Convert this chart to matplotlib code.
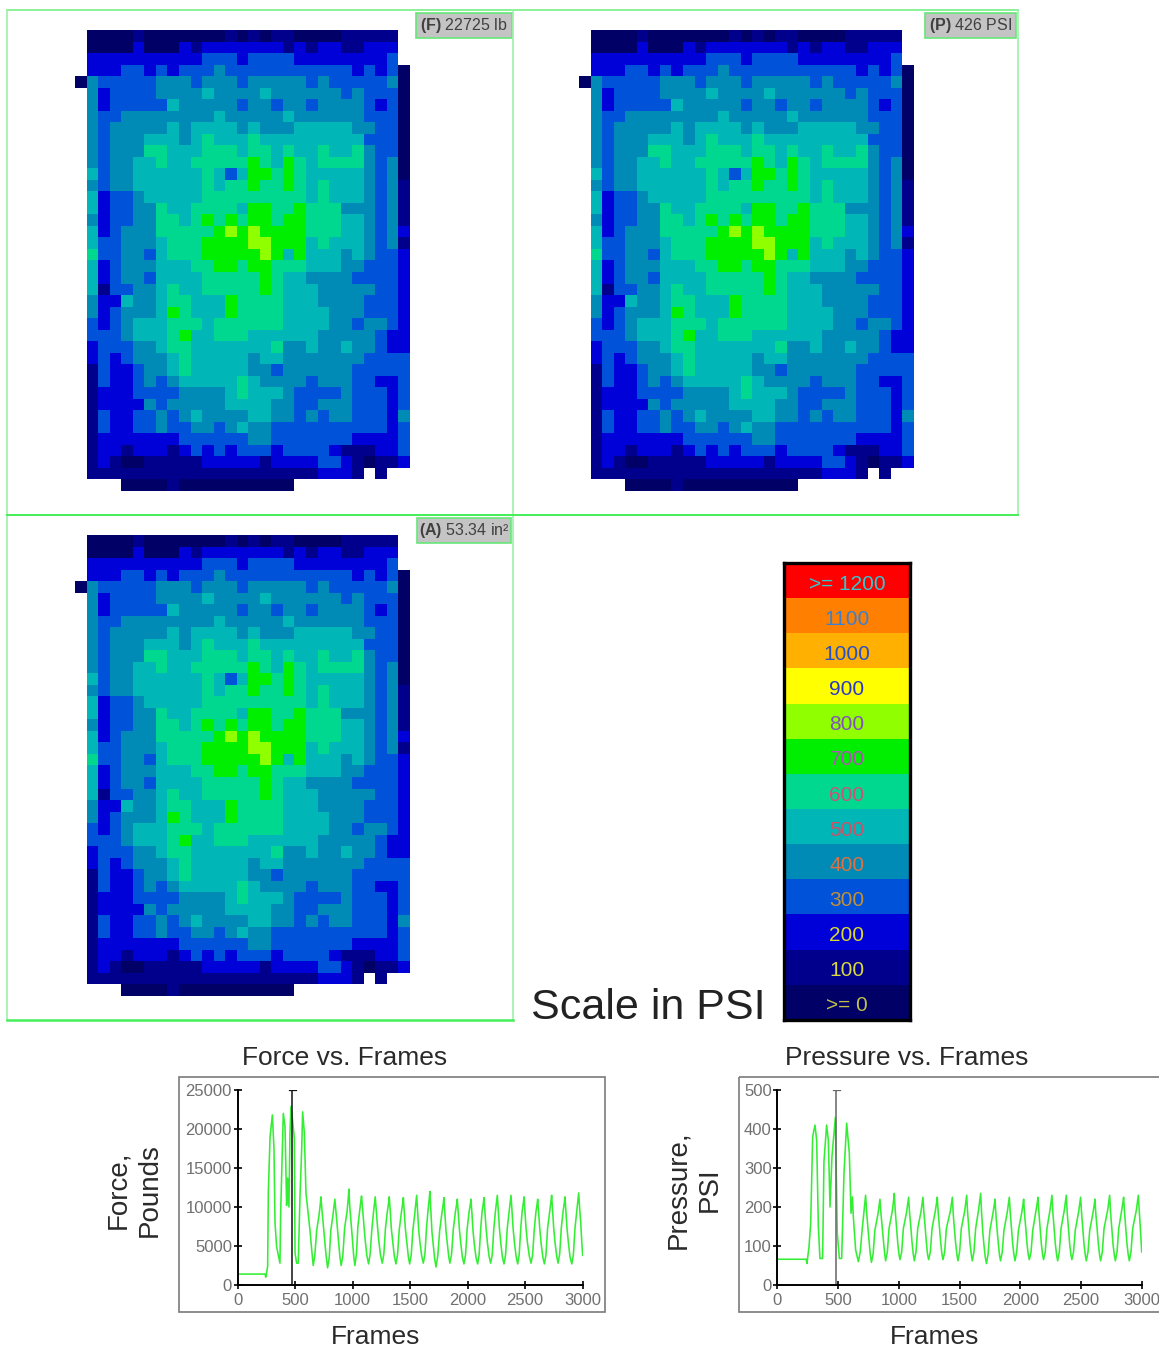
import numpy as np
import matplotlib
matplotlib.use('Agg')
import matplotlib.pyplot as plt
from matplotlib.colors import ListedColormap
from matplotlib.patches import Rectangle

plt.rcParams['font.family'] = ['Liberation Sans', 'DejaVu Sans']
plt.rcParams['mathtext.fontset'] = 'custom'
plt.rcParams['mathtext.bf'] = 'Liberation Sans:bold'
plt.rcParams['mathtext.rm'] = 'Liberation Sans'

W, H = 1159, 1348

# pressure level of each sensel, '.' = no contact
sensel_rows = [
    ". 0000 1 0000000 1 0 1 0 11 0000 11111 .",
    ". 0000 2 000 2 1 2222222 1 2 1 22 11 222 .",
    ". 2222222222 333 2 3333 22222222 3 .",
    ". 222 33 2 3 2 333 4 33333333333 2 3 2 3 0",
    "0 4 33333 444 3 444 3 44444 3 4 33333 4 0",
    ". 4 2 3333 4444 5 4444 5 444444 3 4 333 0",
    ". 4 2 33333 5 44444 3 44 3 44 3 4444 3 2 3 0",
    ". 4 33 44444444 5 44444 5 444444 333 0",
    ". 4 3 44444 5 4 5555 4 5 444 55555 44 33 0",
    ". 4 3 444 555 4 5 6 555 6 555555555 333 0",
    ". 4 3 444 66 555 666 5 66 5 6 55 6 55 6 4 33 0",
    ". 4 3 44 55 6 55 66666 7 6 5 7 6 5 6666 4 3 4 0",
    ". 5 3 44 555555 6 5 3 5 77 6 7 6 55555 4 3 4 0",
    ". 4 3 44 555555 6 5 66 7 66 7 6 5 6 555 4 3 4 1",
    ". 5 2 33 4 55555 666666666 5 6 555 4 3 4 1",
    ". 5 2 33 44 6 55 6666 5 77 66 7 666 44 4 3 4 1",
    ". 4 2 33 44 66 5 6 7 6 7 6 77 6 77 666 55 4 3 4 1",
    ". 5 2 3 444 66666 7 8 7 8 7777 666 55 4 3 4 2",
    ". 5 33 444 5 666 7777 88 777 5 6 555 4 3 4 1",
    ". 6 33 44 3 5 666 77777 8 7 5 7 555 4 5 4 33 2",
    ". 5 2 3 444 555 66 77 6 77 666 555 44 333 2",
    ". 5 2 3 44 3 5555 66666 7 6 55 4444 3333 2",
    ". 5 1 33 44 5 6 55 66666 7 6 555 44444 33 2",
    ". 4 22 5 44 5 66 555 7 6666 555 4444 333 2",
    ". 4 2 3 444 5 7 6 555 7 6666 5555 444 333 2",
    ". 3 2 3 4 555 666 5 666666 5555 44 3 44 3 2",
    ". 333 4 555 6 7 55 666 555555 44444 3 22",
    ". 2 333 44 5 66 5555555 6 44 5 44 5 44 3 22",
    ". 2 3 2 3 444 5 6 55555 4 55 4444444 3333",
    ". 1 3 22 3 44 5 6 55555 44 3 444444 33333",
    ". 1 3 22 3 4 3 4 55555 6 5 4444 3 444 33 22 3",
    ". 1 222 3333 4444 5 6 555 4 3333 4 333 2 3",
    ". 1 2222 4 3 44444 5555 44 33 444 333 2 3",
    ". 1 3 22 33 4 3 4 5 4444 55 44 3 4 3 44 333 2 4",
    ". 1 3 22 33 4 33 44 3 4 5 44 3333333333 2 3",
    ". 1 2222222 333333 44 3333333 2222 3",
    ". 1 22 1 222 1 2 3 2 3 2 333 2 3333 2 111 22 3",
    ". 1 2 1 00 11111 22222 1 2222 33 2 1 0 11 2",
    ". 11111111111111111111 222 1 . 1 ..",
    ". ... 0000 1 0000000000 ..........",
]

scale_labels = ['>= 1200', '1100', '1000', '900', '800', '700', '600',
                '500', '400', '300', '200', '100', '>= 0']
scale_colors = ['#ff0000', '#ff8000', '#ffb000', '#ffff00', '#90ff00', '#00ee00', '#00d890',
                '#00b6b6', '#008ab6', '#0052d8', '#0000d8', '#00008c', '#000066']
scale_text_colors = ['#30c8d0', '#3a80d0', '#2450c8', '#2a38c8', '#8050c0', '#b050b8', '#d05078',
                     '#d05068', '#e07040', '#c09038', '#d8d830', '#d8d840', '#c0c048']

map_tags = [r'$\mathbf{(F)}$ 22725 lb', r'$\mathbf{(P)}$ 426 PSI', r'$\mathbf{(A)}$ 53.34 in²']

frame_ticks = [0, 500, 1000, 1500, 2000, 2500, 3000]
force_ticks = [0, 5000, 10000, 15000, 20000, 25000]
pressure_ticks = [0, 100, 200, 300, 400, 500]

force_frames = [
    0, 240, 245, 250, 262, 268, 283, 303, 317, 326, 340, 369, 375, 398, 413, 427, 436, 447, 456, 465,
    476, 494, 500, 514, 528, 543, 558, 566, 581, 595, 612, 630, 645,
    658, 672, 688, 709, 719, 725, 733, 743, 755, 769,
    783, 797, 811, 830, 840, 846, 854, 864, 876, 890,
    901, 915, 931, 952, 962, 968, 976, 986, 998, 1010,
    1020, 1034, 1046, 1062, 1072, 1078, 1086, 1096, 1108, 1124,
    1139, 1153, 1167, 1181, 1191, 1197, 1205, 1215, 1227, 1243,
    1258, 1272, 1286, 1303, 1313, 1319, 1327, 1337, 1349, 1363,
    1377, 1391, 1405, 1425, 1435, 1441, 1449, 1459, 1471, 1485,
    1496, 1510, 1524, 1541, 1551, 1557, 1565, 1575, 1587, 1601,
    1615, 1629, 1643, 1656, 1666, 1672, 1680, 1690, 1702, 1714,
    1725, 1741, 1757, 1778, 1788, 1794, 1802, 1812, 1824, 1836,
    1846, 1860, 1876, 1894, 1904, 1910, 1918, 1928, 1940, 1954,
    1968, 1982, 1996, 2013, 2023, 2029, 2037, 2047, 2059, 2073,
    2087, 2100, 2114, 2126, 2136, 2142, 2150, 2160, 2172, 2186,
    2200, 2214, 2228, 2242, 2252, 2258, 2266, 2276, 2288, 2302,
    2316, 2330, 2344, 2361, 2371, 2377, 2385, 2395, 2407, 2421,
    2435, 2448, 2462, 2474, 2484, 2490, 2498, 2508, 2520, 2536,
    2551, 2565, 2579, 2593, 2603, 2609, 2617, 2627, 2639, 2653,
    2667, 2681, 2695, 2714, 2724, 2730, 2738, 2748, 2760, 2774,
    2786, 2800, 2814, 2830, 2840, 2846, 2854, 2864, 2876, 2890,
    2905, 2919, 2933, 2949, 2959, 2965, 2975, 2983, 2992, 3000,
]
force_values = [
    1400, 1400, 1000, 1300, 2400, 12000, 19000, 21800, 17500, 8000, 4900, 2800, 9200, 22000, 20300, 10200, 13700, 10000, 19500, 22900,
    21500, 18800, 4100, 2800, 2800, 11300, 17500, 22200, 19500, 11800, 9500, 7000, 4500,
    2500, 3800, 7000, 9000, 10300, 11300, 9800, 8200, 6200, 3900,
    2200, 3500, 7000, 9000, 10200, 11000, 9600, 8000, 6000, 3600,
    2500, 3700, 7300, 9400, 11000, 12300, 10000, 8200, 6000, 3700,
    2500, 4000, 7500, 9600, 10800, 11400, 10000, 8400, 6000, 3800,
    2700, 4000, 7000, 9200, 10500, 11300, 9700, 7800, 5800, 3800,
    2800, 4000, 7300, 9500, 10500, 11300, 9600, 7200, 5600, 3700,
    2700, 3900, 7000, 9400, 10400, 11200, 9500, 7200, 5500, 3600,
    2700, 3900, 7000, 9200, 10700, 11500, 9600, 7000, 5300, 3700,
    2800, 4000, 7400, 9600, 11000, 12000, 9800, 6800, 5000, 3300,
    2300, 3800, 7000, 9400, 10400, 11200, 9300, 6900, 5200, 3600,
    2800, 3900, 7200, 9400, 10300, 11000, 9400, 7200, 5400, 3600,
    2700, 3900, 7200, 9400, 10300, 11000, 9300, 6900, 5100, 3500,
    2700, 3900, 7300, 9500, 10400, 11200, 9500, 7300, 5400, 3700,
    2800, 3900, 7300, 9500, 10700, 11500, 9600, 7300, 5400, 3600,
    2700, 3900, 7200, 9500, 10700, 11500, 9700, 7300, 5400, 3700,
    2700, 3900, 7300, 9500, 10500, 11300, 9500, 7200, 5400, 3700,
    2800, 3900, 7100, 9300, 10300, 11000, 9300, 7200, 5300, 3600,
    2700, 3900, 7300, 9500, 10700, 11500, 9600, 7300, 5400, 3700,
    2800, 4000, 7300, 9500, 10500, 11300, 9500, 7200, 5400, 3600,
    2700, 3900, 7300, 9500, 11000, 11800, 9500, 8000, 5500, 3800,
]

pressure_frames = [
    0, 238, 244, 261, 275, 291, 310, 324, 338, 351, 373, 384, 406, 420, 434, 450, 478, 494, 511, 530,
    549, 571, 593, 607, 618, 626, 645,
    667, 683, 698, 711, 721, 727, 735, 745, 755, 765,
    775, 789, 803, 829, 839, 845, 853, 863, 875, 885,
    892, 906, 920, 947, 957, 963, 971, 981, 991, 1001,
    1010, 1024, 1038, 1065, 1075, 1081, 1089, 1099, 1109, 1119,
    1128, 1142, 1156, 1183, 1193, 1199, 1207, 1217, 1227, 1237,
    1246, 1260, 1274, 1301, 1311, 1317, 1325, 1335, 1345, 1355,
    1364, 1378, 1392, 1425, 1435, 1441, 1449, 1459, 1469, 1479,
    1487, 1501, 1515, 1543, 1553, 1559, 1567, 1577, 1587, 1597,
    1605, 1619, 1633, 1658, 1668, 1674, 1682, 1692, 1702, 1712,
    1722, 1736, 1750, 1776, 1786, 1792, 1800, 1810, 1820, 1830,
    1838, 1852, 1866, 1894, 1904, 1910, 1918, 1928, 1938, 1948,
    1957, 1971, 1985, 2012, 2022, 2028, 2036, 2046, 2056, 2066,
    2075, 2089, 2103, 2130, 2140, 2146, 2154, 2164, 2174, 2184,
    2192, 2206, 2220, 2245, 2255, 2261, 2269, 2279, 2289, 2299,
    2308, 2322, 2336, 2363, 2373, 2379, 2387, 2397, 2407, 2417,
    2425, 2439, 2453, 2481, 2491, 2497, 2505, 2515, 2525, 2535,
    2544, 2558, 2572, 2599, 2609, 2615, 2623, 2633, 2643, 2653,
    2662, 2676, 2690, 2720, 2730, 2736, 2744, 2754, 2764, 2774,
    2783, 2797, 2811, 2835, 2845, 2851, 2859, 2869, 2879, 2889,
    2898, 2912, 2926, 2956, 2966, 2972, 2980, 2988, 2994, 3000,
]
pressure_values = [
    66, 66, 55, 98, 158, 380, 410, 372, 150, 68, 68, 316, 410, 372, 200, 329, 430, 132, 68, 68,
    286, 415, 338, 184, 226, 175, 90,
    60, 85, 140, 180, 210, 230, 190, 150, 115, 80,
    58, 80, 140, 182, 205, 220, 185, 150, 110, 78,
    62, 85, 145, 190, 215, 235, 190, 150, 110, 80,
    65, 85, 145, 188, 210, 225, 185, 150, 110, 80,
    62, 85, 145, 188, 210, 225, 185, 150, 110, 78,
    65, 85, 145, 190, 210, 225, 185, 148, 110, 80,
    65, 85, 145, 190, 212, 225, 180, 140, 105, 78,
    62, 85, 145, 190, 215, 230, 185, 145, 105, 78,
    62, 85, 145, 195, 220, 235, 185, 135, 100, 72,
    55, 80, 140, 185, 205, 220, 180, 140, 105, 75,
    62, 85, 140, 188, 210, 225, 185, 145, 105, 78,
    62, 85, 140, 185, 205, 220, 180, 145, 105, 78,
    65, 85, 140, 190, 210, 225, 185, 145, 105, 78,
    65, 85, 145, 192, 215, 230, 185, 145, 105, 78,
    62, 85, 145, 192, 215, 230, 185, 145, 105, 78,
    65, 85, 140, 188, 210, 225, 185, 145, 105, 78,
    62, 85, 140, 185, 205, 220, 180, 145, 105, 78,
    62, 85, 145, 192, 215, 230, 185, 145, 105, 78,
    62, 85, 145, 190, 210, 225, 185, 145, 105, 78,
    62, 85, 145, 192, 215, 230, 190, 150, 115, 85,
]


def px_axes(x0, y0, x1, y1, **kw):
    return fig.add_axes([x0 / W, 1 - y1 / H, (x1 - x0) / W, (y1 - y0) / H], **kw)


fig = plt.figure(figsize=(W / 100, H / 100), dpi=100, facecolor='white')

# frames and tags live on one pixel-sized overlay
bg = px_axes(0, 0, W, H)
bg.set_xlim(0, W)
bg.set_ylim(H, 0)
bg.axis('off')
thin = '#a0f0aa'
bold = '#44ee58'
bg.plot([7, 1018], [10, 10], color='#77ee88', lw=1.2)
bg.plot([7, 7], [10, 1020], color=thin, lw=1.2)
bg.plot([513, 513], [10, 1020], color=thin, lw=1.2)
bg.plot([1018, 1018], [10, 515], color=thin, lw=1.2)
bg.plot([7, 1018], [515, 515], color=bold, lw=1.4)
bg.plot([7, 513], [1020, 1020], color=bold, lw=1.8)

tag_boxes = [(416, 13, 96, 25), (925, 13, 91, 25), (417, 518, 94, 25)]
for tag, (x, y, w, h) in zip(map_tags, tag_boxes):
    bg.add_patch(Rectangle((x, y), w, h, fc='#c4c4c4', ec='#66e878', lw=1.2))
    bg.text(x + w / 2, y + h / 2, tag, ha='center', va='center', fontsize=11.5, color='#404040')

levels = [[-1 if c == '.' else int(c) for c in r.replace(' ', '')] for r in sensel_rows]
grid = np.ma.masked_less(np.array(levels), 0)
cmap = ListedColormap(scale_colors[::-1])

cell = 11.52
for left, top in [(74.9, 30.4), (578.9, 30.4), (74.9, 535.2)]:
    ax = px_axes(left, top, left + 29 * cell, top + 40 * cell)
    ax.imshow(grid, cmap=cmap, vmin=-0.5, vmax=12.5, aspect='auto', interpolation='nearest')
    ax.axis('off')

# colour scale
lg = px_axes(784, 563, 910, 1020)
lg.imshow(np.arange(13)[::-1].reshape(-1, 1), cmap=cmap, vmin=-0.5, vmax=12.5, aspect='auto')
lg.set_xticks([])
lg.set_yticks([])
for s in lg.spines.values():
    s.set_linewidth(2.4)
    s.set_color('black')
for i, (lab, col) in enumerate(zip(scale_labels, scale_text_colors)):
    lg.text(0, i + 0.1, lab, ha='center', va='center', fontsize=15, color=col)

fig.text(648 / W, 1 - 1008 / H, 'Scale in PSI', ha='center', va='center', fontsize=31, color='#222222')


def small_plot(box, frame_x, frames, values, ticks, ymax, cursor, cursor_color, title, title_x, ylabel, ylabel_x, xlabel_x):
    bg.add_patch(Rectangle((box[0], 1077), box[1] - box[0], 235, fc='none', ec='#7a7a7a', lw=1.2))
    ax = px_axes(frame_x[0], 1090, frame_x[1], 1285)
    ax.patch.set_alpha(0)
    ax.plot(frames, values, color='#33ee33', lw=1.15)
    ax.plot([cursor, cursor], [0, ymax], color=cursor_color, lw=1.1)
    ax.plot([cursor - 30, cursor + 30], [ymax, ymax], color=cursor_color, lw=0.9)
    ax.set_xlim(0, 3000)
    ax.set_ylim(0, ymax)
    ax.set_xticks(frame_ticks)
    ax.set_yticks(ticks)
    ax.spines['top'].set_visible(False)
    ax.spines['right'].set_visible(False)
    ax.spines['left'].set_linewidth(1.4)
    ax.spines['bottom'].set_linewidth(1.4)
    ax.tick_params(axis='both', direction='inout', length=6, width=1.2, labelsize=12, labelcolor='#707070')
    ax.tick_params(axis='x', pad=3)
    ax.tick_params(axis='y', pad=1)
    fig.text(title_x / W, 1 - 1058 / H, title, ha='center', va='center', fontsize=19, color='#2a2a2a')
    fig.text(xlabel_x / W, 1 - 1337 / H, 'Frames', ha='center', va='center', fontsize=19, color='#2a2a2a')
    fig.text(ylabel_x / W, 1 - 1190 / H, ylabel, ha='center', va='center', rotation=90, fontsize=20,
             color='#2a2a2a', linespacing=1.25, multialignment='center')


small_plot((179, 605), (237.5, 582.7), force_frames, force_values, force_ticks, 25000,
           476, '#111111', 'Force vs. Frames', 345, 'Force,\nPounds', 134, 376)
small_plot((739, 1175), (777.3, 1141.7), pressure_frames, pressure_values, pressure_ticks, 500,
           486, '#666666', 'Pressure vs. Frames', 907, 'Pressure,\nPSI', 694, 935)

fig.savefig('out.png', dpi=100)
